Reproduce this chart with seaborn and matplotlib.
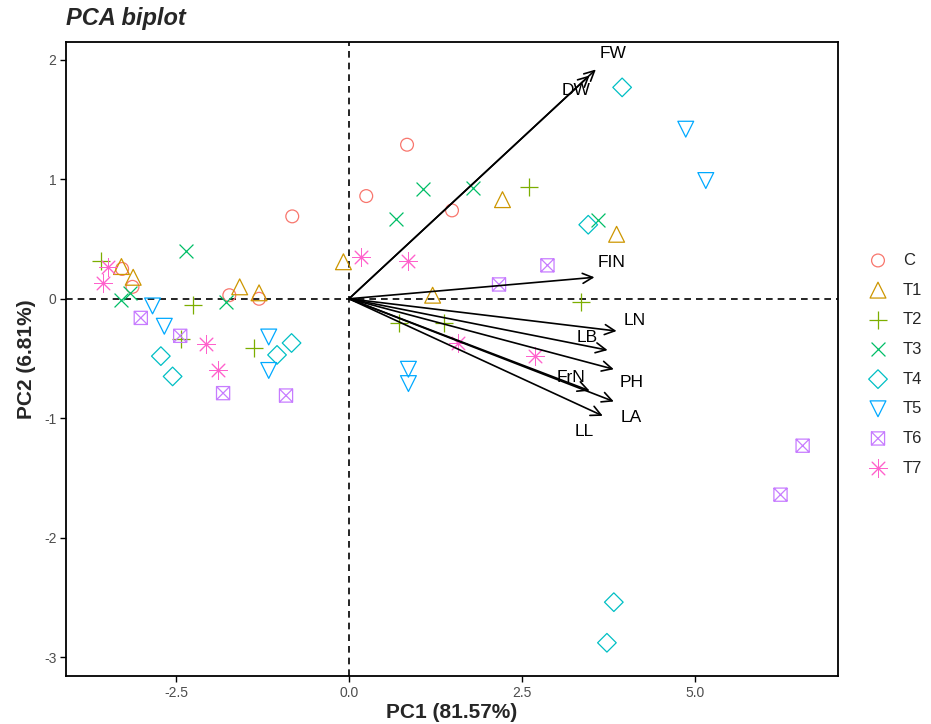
import numpy as np
import pandas as pd
import matplotlib
matplotlib.use('Agg')
import matplotlib.pyplot as plt
from matplotlib.path import Path
import seaborn as sns

sns.set_style('white')
plt.rcParams['font.family'] = ['Liberation Sans', 'DejaVu Sans']
plt.rcParams['axes.unicode_minus'] = False

# scores per group
groups = ['C', 'T1', 'T2', 'T3', 'T4', 'T5', 'T6', 'T7']
pc1 = {
    'C':  [0.84, 0.25, -0.82, 1.49, -3.28, -3.13, -1.73, -1.30],
    'T1': [-3.29, -3.12, -1.58, -1.30, -0.08, 2.22, 3.87, 1.21],
    'T2': [-3.59, -2.26, -2.43, -1.38, 2.61, 3.36, 0.73, 1.38],
    'T3': [-2.36, -3.16, -3.30, -1.78, 1.07, 0.68, 1.80, 3.60],
    'T4': [-2.72, -2.55, -1.04, -0.83, 3.46, 3.95, 3.83, 3.73],
    'T5': [-2.84, -2.67, -1.16, -1.16, 0.86, 0.86, 4.87, 5.16],
    'T6': [-3.01, -2.44, -1.82, -0.91, 2.87, 2.17, 6.56, 6.24],
    'T7': [-3.49, -3.56, -2.07, -1.89, 0.18, 0.85, 1.58, 2.69],
}
pc2 = {
    'C':  [1.29, 0.86, 0.69, 0.74, 0.25, 0.10, 0.03, 0.00],
    'T1': [0.27, 0.18, 0.10, 0.05, 0.31, 0.83, 0.54, 0.03],
    'T2': [0.32, -0.05, -0.34, -0.41, 0.94, -0.03, -0.20, -0.20],
    'T3': [0.40, 0.05, -0.01, -0.03, 0.92, 0.67, 0.93, 0.66],
    'T4': [-0.48, -0.65, -0.47, -0.37, 0.62, 1.77, -2.54, -2.88],
    'T5': [-0.06, -0.23, -0.32, -0.60, -0.59, -0.71, 1.42, 0.99],
    'T6': [-0.16, -0.31, -0.79, -0.81, 0.28, 0.12, -1.23, -1.64],
    'T7': [0.27, 0.13, -0.38, -0.60, 0.35, 0.32, -0.37, -0.48],
}

# loadings (arrow tips) and label positions
variables = ['FW', 'DW', 'FIN', 'LN', 'LB', 'PH', 'FrN', 'LA', 'LL']
load1 = [3.57, 3.48, 3.55, 3.87, 3.74, 3.83, 3.48, 3.83, 3.67]
load2 = [1.92, 1.87, 0.18, -0.27, -0.43, -0.59, -0.77, -0.86, -0.98]
lab1 = [3.82, 3.29, 3.80, 4.13, 3.45, 4.09, 3.21, 4.08, 3.40]
lab2 = [2.05, 1.74, 0.30, -0.18, -0.32, -0.70, -0.66, -0.99, -1.11]

colors = ['#F8766D', '#CD9600', '#7CAE00', '#00BE67', '#00BFC4', '#00A9FF', '#C77CFF', '#FF61CC']

box_x = Path([(-1, -1), (1, -1), (1, 1), (-1, 1), (-1, -1), (1, 1), (-1, 1), (1, -1)],
             [Path.MOVETO, Path.LINETO, Path.LINETO, Path.LINETO, Path.CLOSEPOLY,
              Path.LINETO, Path.MOVETO, Path.LINETO])
markers = ['o', '^', '+', 'x', 'D', 'v', box_x, (8, 2, 0)]
sizes = [85, 130, 150, 100, 90, 130, 90, 170]
widths = [0.9, 0.9, 0.9, 0.9, 0.9, 0.9, 0.9, 0.7]
filled = [True, True, False, False, True, True, True, False]

rows = []
for g in groups:
    for a, b in zip(pc1[g], pc2[g]):
        rows.append({'group': g, 'PC1': a, 'PC2': b})
df = pd.DataFrame(rows)

fig = plt.figure(figsize=(9.31, 7.24), dpi=100)
ax = fig.add_axes([0.071, 0.066, 0.829, 0.876])

ax.axhline(0, color='black', ls='--', lw=1.2, dashes=(4, 3), zorder=1)
ax.axvline(0, color='black', ls='--', lw=1.2, dashes=(4, 3), zorder=1)

for g, c, m, s, f, w in zip(groups, colors, markers, sizes, filled, widths):
    sub = df[df['group'] == g]
    if f:
        sns.scatterplot(data=sub, x='PC1', y='PC2', marker=m, s=s, facecolor='none',
                        edgecolor=c, linewidth=w, ax=ax, label=g, zorder=3)
    else:
        sns.scatterplot(data=sub, x='PC1', y='PC2', marker=m, s=s, color=c,
                        linewidth=w, ax=ax, label=g, zorder=3)

for v, x1, y1, tx, ty in zip(variables, load1, load2, lab1, lab2):
    ax.annotate('', xy=(x1, y1), xytext=(0, 0),
                arrowprops=dict(arrowstyle='->', color='black', lw=1.2,
                                mutation_scale=18, shrinkA=0, shrinkB=0), zorder=4)
    ax.text(tx, ty, v, fontsize=12.5, ha='center', va='center', color='black', zorder=5)

ax.set_xlim(-4.09, 7.07)
ax.set_ylim(-3.16, 2.15)
ax.set_xticks([-2.5, 0.0, 2.5, 5.0])
ax.set_xticklabels(['-2.5', '0.0', '2.5', '5.0'])
ax.set_yticks([-3, -2, -1, 0, 1, 2])
ax.tick_params(axis='both', which='both', direction='out', length=4, width=1, pad=3,
               color='black', labelsize=10, labelcolor='#4D4D4D', bottom=True, left=True)
for sp in ax.spines.values():
    sp.set_color('black')
    sp.set_linewidth(1.3)

ax.set_xlabel('PC1 (81.57%)', fontsize=15, fontweight='bold', labelpad=2)
ax.set_ylabel('PC2 (6.81%)', fontsize=15, fontweight='bold', labelpad=6)
fig.text(0.071, 0.975, 'PCA biplot', fontsize=17, fontweight='bold', fontstyle='italic',
         ha='left', va='center')

handles, labels = ax.get_legend_handles_labels()
ax.get_legend().remove()
fig.legend(handles, labels, loc='center left', bbox_to_anchor=(0.918, 0.497),
           frameon=False, fontsize=12, labelspacing=0.88, handletextpad=0.5,
           borderaxespad=0)

fig.savefig('out.png', dpi=100)
